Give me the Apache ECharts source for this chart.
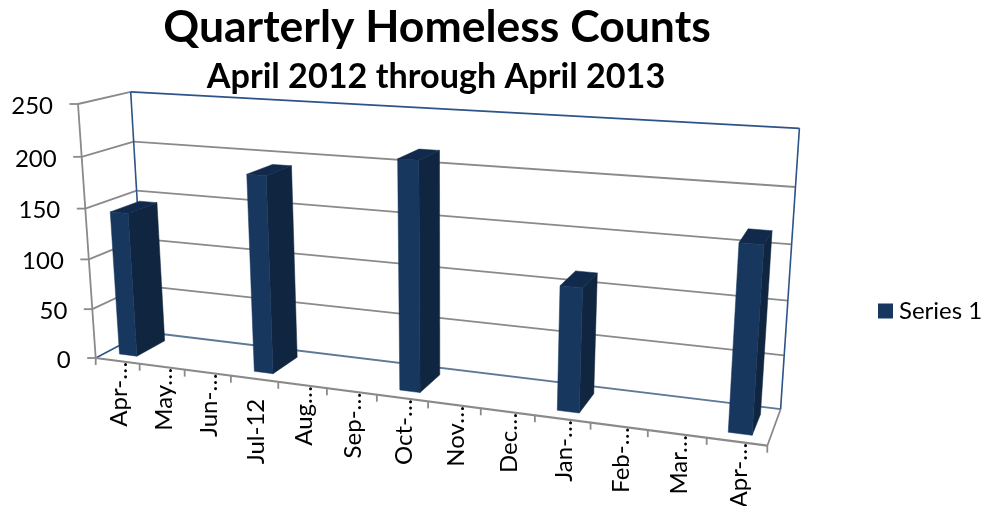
<!DOCTYPE html>
<html>
<head>
<meta charset="utf-8">
<style>html,body{margin:0;padding:0;background:#fff}#chart{width:987px;height:506px}</style>
<script src="https://cdn.jsdelivr.net/npm/echarts@6/dist/echarts.min.js"></script>
</head>
<body>
<div id="chart"></div>
<script>
const categories = ['Apr-…','May…','Jun-…','Jul-12','Aug…','Sep-…','Oct-…','Nov…','Dec…','Jan-…','Feb-…','Mar…','Apr-…'];
const homelessCounts = [144,null,null,191,null,null,215,null,null,114,null,null,165];
const yTicks = [0,50,100,150,200,250];
const seriesName = 'Series 1';
const titleText = 'Quarterly Homeless Counts';
const subtitleText = 'April 2012 through April 2013';

const FONT = 'Lato';
const W = 987, H = 506;

// Camera of the 3D box: images of the box origin and its three unit edges,
// plus the perspective weight along each edge.
const cam = {
  O:[95.7,358], X:[767.3,445.7], Y:[78,104], Z:[145,332],
  gx:-0.16, gy:-0.048, gz:0.06
};
function project(x, y, z) {
  const {O,X,Y,Z,gx,gy,gz} = cam;
  const d = 1 + gx*x + gy*y + gz*z;
  const f = i => O[i] + x*((1+gx)*X[i]-O[i]) + y*((1+gy)*Y[i]-O[i]) + z*((1+gz)*Z[i]-O[i]);
  return [f(0)/d, f(1)/d];
}
// Hidden cartesian axes fill the canvas, so pixel positions normalise to box units.
const toBox = pt => [pt[0]/W, 1 - pt[1]/H];

const BLUE_EDGE = '#2c5488', GREY = '#8a8a8a', MIXED = '#5d7997';
const line = (a, b, stroke, lw) => ({type:'line', shape:{x1:a[0],y1:a[1],x2:b[0],y2:b[1]},
  style:{stroke, lineWidth:lw, fill:null}});
const face = (pts, fill) => ({type:'polygon', shape:{points:pts}, style:{fill, stroke:fill, lineWidth:0.5}});

function renderGridLevel(params, api) {
  const v = toBox(api.coord([0, api.value(1)]))[1];
  const val = api.value(1);
  const a = project(0,v,0), b = project(0,v,1), c = project(1,v,1);
  const backColor = val === 250 ? BLUE_EDGE : val === 0 ? MIXED : GREY;
  const kids = [
    line(b, c, backColor, 1.8),
    val === 0 ? line(a, b, BLUE_EDGE, 1.5) : line(a, b, GREY, 1.8),
    line([a[0]-8.5,a[1]], a, GREY, 1.8),
    {type:'text', x:a[0]-25, y:a[1]+2,
      style:{text:String(val), font:'24px '+FONT, fill:'#000', align:'right', verticalAlign:'middle'}}
  ];
  return {type:'group', children:kids};
}

function renderCategory(params, api) {
  const i = api.value(0);
  const band = api.size([1,0])[0]/W;
  const u = toBox(api.coord([i,0]))[0];
  const left = project(u-band/2,0,0), mid = project(u,0,0);
  const kids = [line(left, [left[0],left[1]+7], GREY, 1.8)];
  if (i === categories.length-1) {
    const right = project(u+band/2,0,0);
    kids.push(line(right, [right[0],right[1]+7], GREY, 1.8));
  }
  const label = categories[i];
  kids.push({type:'text', x:mid[0]+2, y:mid[1]+(label==='Jul-12'?20:1), rotation:Math.PI/2,
    style:{text:label, font:'24px '+FONT, fill:'#000', align:'right', verticalAlign:'middle'}});
  return {type:'group', children:kids};
}

function renderFrame() {
  return {type:'group', children:[
    line(project(0,0,1), project(0,1,1), BLUE_EDGE, 1.6),
    line(project(1,0,1), project(1,1,1), BLUE_EDGE, 1.6),
    line(project(0,0,0), project(0,1,0), GREY, 1.8),
    line(project(1,0,0), project(1,0,1), GREY, 1.8),
    line(project(0,0,0), project(1,0,0), GREY, 2.2)
  ]};
}

function renderBar(params, api) {
  const val = api.value(1);
  if (isNaN(val)) return null;
  const c = api.coord([api.value(0), val]);
  const band = api.size([1,0])[0]/W;
  const [u, v] = toBox(c);
  const x0 = u-0.2*band, x1 = u+0.2*band, z0 = 0.21, z1 = 0.79;
  const P = project;
  return {type:'group', children:[
    face([P(x1,0,z0),P(x1,0,z1),P(x1,v,z1),P(x1,v,z0)], '#10253f'),
    face([P(x0,v,z0),P(x1,v,z0),P(x1,v,z1),P(x0,v,z1)], '#11294a'),
    face([P(x0,0,z0),P(x1,0,z0),P(x1,v,z0),P(x0,v,z0)], '#17375e')
  ]};
}

const chart = echarts.init(document.getElementById('chart'), null, {renderer:'canvas'});
chart.setOption({
  animation:false,
  backgroundColor:'#fff',
  title:[
    {text:titleText, left:432, top:0, textAlign:'center',
     textStyle:{fontFamily:FONT, fontWeight:'bold', fontSize:44.5, color:'#000'}},
    {text:subtitleText, left:431, top:55, textAlign:'center',
     textStyle:{fontFamily:FONT, fontWeight:'bold', fontSize:34.2, color:'#000'}}
  ],
  legend:{data:[{name:seriesName, icon:'rect'}], left:878, top:299, padding:0, itemWidth:15, itemHeight:15, itemGap:7,
    textStyle:{fontFamily:FONT, fontSize:24, color:'#000', padding:[0,0,0,1]}},
  grid:{left:0,right:0,top:0,bottom:0},
  xAxis:{type:'category', data:categories.map((c,i)=>i), show:false},
  yAxis:{type:'value', min:0, max:250, interval:50, show:false},
  series:[
    {type:'custom', name:'grid levels', silent:true, clip:false, renderItem:renderGridLevel,
      data:yTicks.map(v=>[0,v]), encode:{x:0,y:1}, z:1},
    {type:'custom', name:'frame', silent:true, clip:false, renderItem:renderFrame, data:[[0,0]], encode:{x:0,y:1}, z:2},
    {type:'custom', name:'categories', silent:true, clip:false, renderItem:renderCategory,
      data:categories.map((c,i)=>[i,0]), encode:{x:0,y:1}, z:2},
    {type:'custom', name:seriesName, clip:false, renderItem:renderBar, itemStyle:{color:'#17375e'},
      data:homelessCounts.map((v,i)=>[i, v===null?NaN:v]), encode:{x:0,y:1}, z:3}
  ]
});
</script>
</body>
</html>
